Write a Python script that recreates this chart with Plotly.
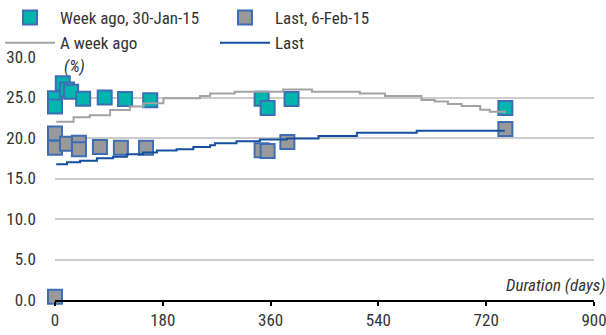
import plotly.graph_objects as go

# Scatter points: duration (days) and yield (%)
week_ago_days = [0, 0, 13, 20, 27, 47, 83, 117, 159, 345, 355, 395, 752]
week_ago_vals = [24.9, 23.9, 26.75, 26.0, 25.7, 24.85, 25.0, 24.8, 24.65, 24.85, 23.7, 24.8, 23.7]

last_days = [0, 0, 0, 20, 40, 40, 75, 110, 152, 345, 355, 388, 752]
last_vals = [0.4, 20.55, 18.8, 19.3, 19.4, 18.6, 18.9, 18.8, 18.8, 18.5, 18.4, 19.5, 21.1]

# Curves (stepped)
curve_week_days = [2, 31, 58, 92, 125, 148, 181, 242, 259, 300, 381, 429, 509, 551, 612, 634, 656, 679, 710, 726, 751]
curve_week_vals = [22.0, 22.55, 22.8, 23.45, 23.9, 24.3, 24.9, 25.2, 25.5, 25.7, 26.0, 25.7, 25.5, 25.2, 24.7, 24.5, 24.2, 23.95, 23.5, 23.25, 23.05]

curve_last_days = [2, 20, 42, 70, 97, 120, 147, 170, 203, 231, 259, 267, 303, 342, 387, 440, 504, 604, 751]
curve_last_vals = [16.75, 17.0, 17.2, 17.5, 17.7, 18.0, 18.2, 18.45, 18.6, 18.9, 19.1, 19.35, 19.6, 19.8, 19.95, 20.25, 20.65, 20.9, 20.9]

x_ticks = [0, 180, 360, 540, 720, 900]
y_ticks = [0, 5, 10, 15, 20, 25, 30]

FONT = "Roboto Condensed, Liberation Sans Narrow, sans-serif"
TXT = "#333333"
BORDER = "#3d6db5"

fig = go.Figure()
fig.add_trace(go.Scatter(
    x=week_ago_days, y=week_ago_vals, mode="markers", name="Week ago, 30-Jan-15",
    marker=dict(symbol="square", size=14, color="#00b5ad", line=dict(color=BORDER, width=2)),
    cliponaxis=False))
fig.add_trace(go.Scatter(
    x=last_days, y=last_vals, mode="markers", name="Last, 6-Feb-15",
    marker=dict(symbol="square", size=14, color="#999999", line=dict(color=BORDER, width=2)),
    cliponaxis=False))
fig.add_trace(go.Scatter(
    x=curve_week_days, y=curve_week_vals, mode="lines", name="A week ago",
    line=dict(color="#a3a3a3", width=2, shape="hv")))
fig.add_trace(go.Scatter(
    x=curve_last_days, y=curve_last_vals, mode="lines", name="Last",
    line=dict(color="#1550a0", width=2, shape="hv")))

fig.update_layout(
    width=606, height=335,
    margin=dict(l=55, r=12, t=57, b=35, autoexpand=False),
    plot_bgcolor="white", paper_bgcolor="white",
    font=dict(family=FONT, size=17, color=TXT),
    showlegend=True,
    legend=dict(orientation="h", xref="container", yref="container", x=-0.005, y=1,
                xanchor="left", yanchor="top", itemwidth=50, entrywidth=150,
                font=dict(family=FONT, size=17, color=TXT),
                bgcolor="rgba(0,0,0,0)", traceorder="normal"),
    xaxis=dict(range=[0, 900], tickvals=x_ticks, ticktext=[str(v) for v in x_ticks],
               showgrid=False, zeroline=False, showline=True, linecolor="black", linewidth=2,
               ticks="outside", ticklen=4, tickwidth=2, tickcolor="black", automargin=False,
               ticklabeloverflow="allow",
               tickfont=dict(family=FONT, size=17, color=TXT)),
    yaxis=dict(range=[0, 30], tickvals=y_ticks, ticktext=[f"{v:.1f}" for v in y_ticks],
               showgrid=True, gridcolor="#cccccc", gridwidth=1.5, zeroline=False,
               showline=False, ticks="", ticklabelstandoff=18, automargin=False,
               tickfont=dict(family=FONT, size=17, color=TXT)),
    shapes=[dict(type="rect", xref="paper", yref="y", x0=0, x1=0.069, y0=29.6, y1=30.4,
                 fillcolor="white", line=dict(width=0), layer="above")],
    annotations=[
        dict(text="<i>(%)</i>", xref="paper", yref="y", x=0.013, y=30, xanchor="left",
             yanchor="top", yshift=3, showarrow=False, font=dict(family=FONT, size=17, color=TXT)),
        dict(text="<i>Duration (days)</i>", xref="paper", yref="y", x=1, y=1.85, xanchor="right",
             yanchor="middle", xshift=14, showarrow=False,
             font=dict(family=FONT, size=17, color=TXT)),
    ],
)

fig.write_html("out.html", config={"displayModeBar": False},
               post_script="document.body.style.margin='0';document.body.style.padding='0';")
